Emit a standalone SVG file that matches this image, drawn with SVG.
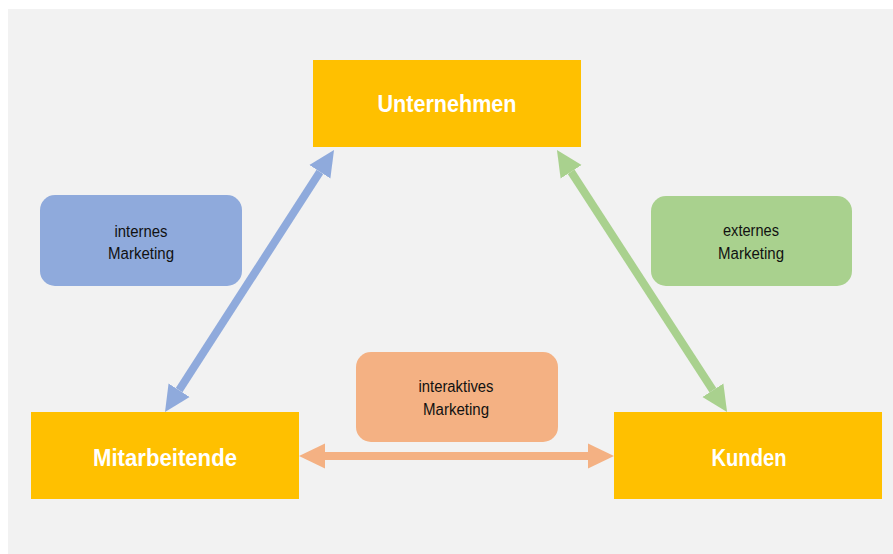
<svg xmlns="http://www.w3.org/2000/svg" width="893" height="554" viewBox="0 0 893 554">
  <style>
    .node { fill: #FFC000; }
    .node-label { font-family: "Liberation Sans Narrow", "Liberation Sans", Arial, sans-serif; font-weight: bold; font-size: 24px; fill: #FFFFFF; text-anchor: middle; }
    .tag-label { font-family: "Liberation Sans", Arial, sans-serif; font-size: 16px; fill: #111111; text-anchor: middle; }
    .link { fill: none; stroke-width: 8; stroke-linecap: butt; }
  </style>
  <defs>
    <marker id="head-blue" markerUnits="userSpaceOnUse" markerWidth="26" markerHeight="26" viewBox="0 0 26 26" refX="0" refY="13" orient="auto-start-reverse">
      <path d="M0,0.5 L26,13 L0,25.5 Z" fill="#8FAADC"/>
    </marker>
    <marker id="head-green" markerUnits="userSpaceOnUse" markerWidth="26" markerHeight="26" viewBox="0 0 26 26" refX="0" refY="13" orient="auto-start-reverse">
      <path d="M0,0.5 L26,13 L0,25.5 Z" fill="#A9D18E"/>
    </marker>
    <marker id="head-peach" markerUnits="userSpaceOnUse" markerWidth="26" markerHeight="26" viewBox="0 0 26 26" refX="0" refY="13" orient="auto-start-reverse">
      <path d="M0,0.5 L26,13 L0,25.5 Z" fill="#F4B183"/>
    </marker>
  </defs>

  <!-- backdrop -->
  <rect x="8" y="9" width="885" height="545" fill="#F2F2F2"/>

  <!-- connectors -->
  <g id="connectors">
    <path class="link" stroke="#8FAADC" d="M319.9,171.8 L179.1,390.2" marker-start="url(#head-blue)" marker-end="url(#head-blue)"/>
    <path class="link" stroke="#A9D18E" d="M571.1,171.8 L712.9,390.2" marker-start="url(#head-green)" marker-end="url(#head-green)"/>
    <path class="link" stroke="#F4B183" d="M325,456 L588,456" marker-start="url(#head-peach)" marker-end="url(#head-peach)"/>
  </g>

  <!-- relation labels -->
  <g id="tag-intern">
    <rect x="40" y="195" width="202" height="91" rx="15" fill="#8FAADC"/>
    <text class="tag-label" x="141" y="237" textLength="53" lengthAdjust="spacingAndGlyphs">internes</text>
    <text class="tag-label" x="141" y="259" textLength="66" lengthAdjust="spacingAndGlyphs">Marketing</text>
  </g>
  <g id="tag-extern">
    <rect x="651" y="196" width="201" height="90" rx="15" fill="#A9D18E"/>
    <text class="tag-label" x="751" y="236" textLength="56" lengthAdjust="spacingAndGlyphs">externes</text>
    <text class="tag-label" x="751" y="259" textLength="66" lengthAdjust="spacingAndGlyphs">Marketing</text>
  </g>
  <g id="tag-interaktiv">
    <rect x="356" y="352" width="202" height="90" rx="15" fill="#F4B183"/>
    <text class="tag-label" x="456" y="392" textLength="75" lengthAdjust="spacingAndGlyphs">interaktives</text>
    <text class="tag-label" x="456" y="415" textLength="66" lengthAdjust="spacingAndGlyphs">Marketing</text>
  </g>

  <!-- main nodes -->
  <g id="node-unternehmen">
    <rect class="node" x="313" y="60" width="268" height="87"/>
    <text class="node-label" x="447" y="112" textLength="139" lengthAdjust="spacingAndGlyphs">Unternehmen</text>
  </g>
  <g id="node-mitarbeitende">
    <rect class="node" x="31" y="412" width="268" height="87"/>
    <text class="node-label" x="165" y="466" textLength="144" lengthAdjust="spacingAndGlyphs">Mitarbeitende</text>
  </g>
  <g id="node-kunden">
    <rect class="node" x="614" y="412" width="268" height="87"/>
    <text class="node-label" x="749" y="466" textLength="75" lengthAdjust="spacingAndGlyphs">Kunden</text>
  </g>
</svg>
